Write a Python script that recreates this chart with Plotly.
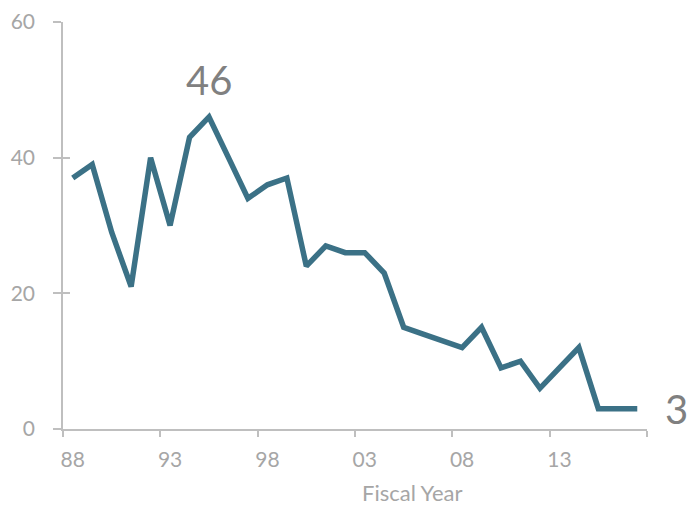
import plotly.graph_objects as go

years = list(range(1988, 2018))
values = [37, 39, 29, 21, 40, 30, 43, 46, 40, 34, 36, 37, 24, 27, 26, 26, 23, 15, 14, 13, 12, 15, 9, 10, 6, 9, 12, 3, 3, 3]
label_years = [1988, 1993, 1998, 2003, 2008, 2013]
label_text = ["88", "93", "98", "03", "08", "13"]
y_ticks = [0, 20, 40, 60]

FONT = "Lato"
AXIS_COLOR = "#bfbfbf"
LABEL_COLOR = "#a6a6a6"
LINE_COLOR = "#3b7186"

xr = [years[0] - 0.5, years[-1] + 0.5]
boundaries = [years[0] - 0.5 + 5 * i for i in range(7)]

fig = go.Figure()
fig.add_trace(go.Scatter(
    x=years, y=values, mode="lines",
    line=dict(color=LINE_COLOR, width=5.5),
    hoverinfo="skip", showlegend=False,
))

peak_i = values.index(max(values))
fig.add_annotation(x=years[peak_i], y=values[peak_i], text=str(values[peak_i]),
                   showarrow=False, yanchor="middle", yshift=37,
                   font=dict(family=FONT, size=40, color="#808080"))
fig.add_annotation(x=years[-1], y=values[-1], text=str(values[-1]),
                   showarrow=False, xanchor="left", yanchor="middle", xshift=26,
                   font=dict(family=FONT, size=40, color="#808080"))
fig.add_annotation(x=0.598, y=0, xref="paper", yref="paper", text="Fiscal Year",
                   showarrow=False, xanchor="center", yanchor="middle", yshift=-63,
                   font=dict(family=FONT, size=22, color=LABEL_COLOR))

fig.update_layout(
    width=687, height=498,
    margin=dict(l=55, r=48, t=14, b=77),
    paper_bgcolor="white", plot_bgcolor="white",
    xaxis=dict(range=xr, tickmode="array", tickvals=boundaries,
               ticktext=[""] * len(boundaries), automargin=False,
               ticks="outside", ticklen=6, tickwidth=1.5, tickcolor=AXIS_COLOR,
               showline=True, linecolor=AXIS_COLOR, linewidth=1.5,
               showgrid=False, zeroline=False, fixedrange=True),
    xaxis2=dict(range=xr, overlaying="x", side="bottom", tickmode="array",
                tickvals=label_years, ticktext=label_text, ticks="",
                showline=False, showgrid=False, zeroline=False, automargin=False,
                ticklabelstandoff=16, ticklabeloverflow="allow",
                tickfont=dict(family=FONT, size=21, color=LABEL_COLOR)),
    yaxis=dict(range=[0, 60], tickmode="array", tickvals=y_ticks, automargin=False,
               ticks="outside", ticklen=8, tickwidth=1.5, tickcolor=AXIS_COLOR,
               showline=True, linecolor=AXIS_COLOR, linewidth=1.5,
               showgrid=False, zeroline=False, ticklabelstandoff=14,
               ticklabeloverflow="allow",
               tickfont=dict(family=FONT, size=21, color=LABEL_COLOR)),
    yaxis2=dict(range=[0, 60], overlaying="y", side="left", tickmode="array",
                tickvals=y_ticks, ticktext=[""] * len(y_ticks), automargin=False,
                ticks="inside", ticklen=7, tickwidth=1.5, tickcolor=AXIS_COLOR,
                showline=False, showgrid=False, zeroline=False),
)
# invisible traces to activate overlay axes
fig.add_trace(go.Scatter(x=[years[0]], y=[None], xaxis="x2", yaxis="y",
                         showlegend=False, hoverinfo="skip"))
fig.add_trace(go.Scatter(x=[None], y=[0], xaxis="x", yaxis="y2",
                         showlegend=False, hoverinfo="skip"))

fig.write_html("out.html")
